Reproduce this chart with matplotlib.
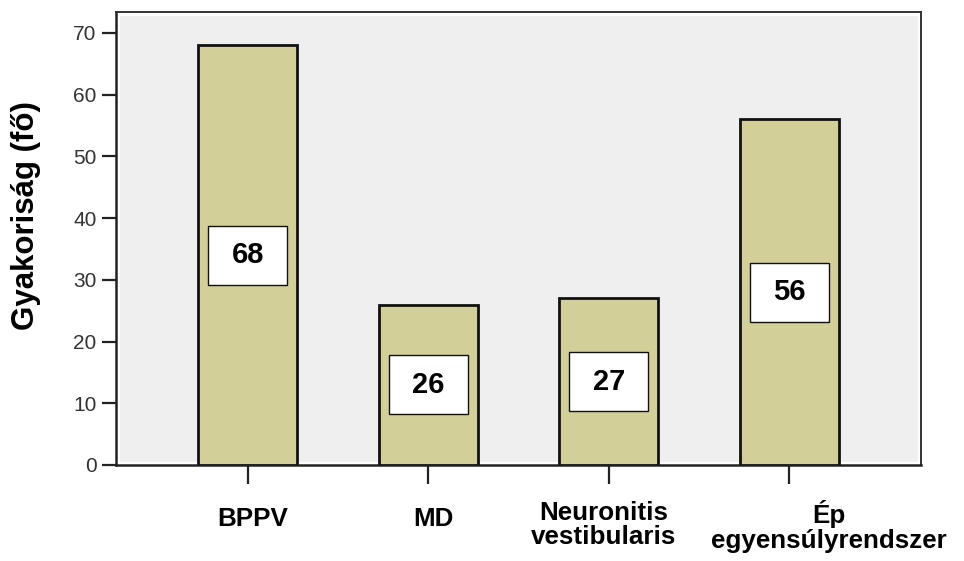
import matplotlib
matplotlib.use("Agg")
import matplotlib.pyplot as plt
import matplotlib.transforms as mtransforms
from matplotlib.patches import Rectangle

plt.rcParams['font.family'] = ['Liberation Sans', 'DejaVu Sans']

categories = ["BPPV", "MD", "Neuronitis\nvestibularis", "Ép\negyensúlyrendszer"]
values = [68, 26, 27, 56]
yticks = [0, 10, 20, 30, 40, 50, 60, 70]
ylabel = "Gyakoriság (fő)"

fig = plt.figure(figsize=(9.64, 5.61), dpi=100)
ax = fig.add_axes([116/964, 96/561, 805/964, 453/561])
ax.set_facecolor('#efefef')

x = list(range(len(categories)))
ax.bar(x, values, width=0.547, color='#d3cf99', edgecolor='#111111',
       linewidth=2.0, zorder=3)

for xi, v in zip(x, values):
    ax.add_patch(Rectangle((xi - 0.22, v / 2 - 4.8), 0.44, 9.6,
                           facecolor='white', edgecolor='#111111',
                           linewidth=1.0, zorder=4))
    ax.text(xi, v / 2, str(v), ha='center', va='center', fontsize=21,
            fontweight='bold', color='black', zorder=5)

# inner white border of plot area
ax.add_patch(Rectangle((0, 0), 1, 1, transform=ax.transAxes, fill=False,
                       edgecolor='white', linewidth=5, zorder=2, clip_on=True))

ax.set_xlim(-0.73, 3.73)
ax.set_ylim(0, 73.4)
ax.set_yticks(yticks)
ax.set_xticks(x)
ax.set_xticklabels(categories, fontsize=18.7, fontweight='bold',
                   linespacing=1.03)
ax.tick_params(axis='y', length=10, width=1.6, color='#222222',
               labelsize=15, labelcolor='#333333', pad=4)
ax.tick_params(axis='x', length=14, width=1.6, color='#222222', pad=13)

# label offsets (pixels)
offsets = [(5, -4), (5, -4), (-5, 2), (40, 2)]
labels = ax.get_xticklabels()
for lab, (dx, dy) in zip(labels, offsets):
    lab.set_transform(lab.get_transform() +
                      mtransforms.ScaledTranslation(dx / 100, dy / 100,
                                                    fig.dpi_scale_trans))

for side in ['left', 'bottom']:
    ax.spines[side].set_linewidth(1.8)
    ax.spines[side].set_color('#222222')
for side in ['top', 'right']:
    ax.spines[side].set_linewidth(1.4)
    ax.spines[side].set_color('#333333')

ax.set_ylabel(ylabel, fontsize=22.5, fontweight='bold')
ax.yaxis.label.set_va('center')
ax.yaxis.set_label_coords(-0.112, 0.55)

fig.savefig('out.png', dpi=100)
